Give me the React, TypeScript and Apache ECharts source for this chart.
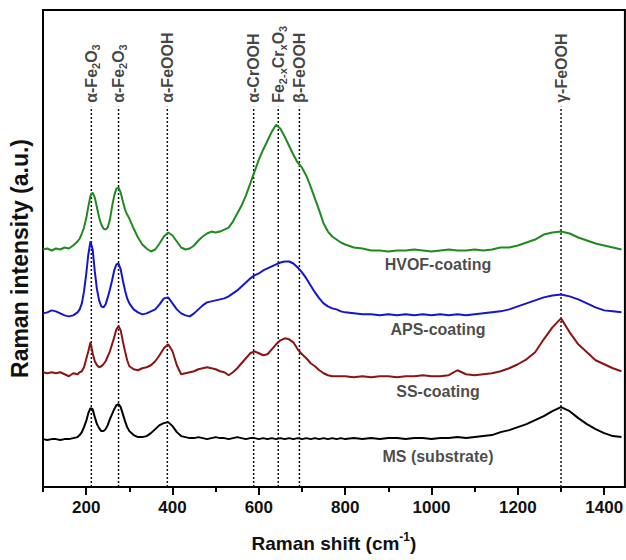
import React, { useEffect, useRef } from "react";
import * as echarts from "echarts";

// Raman shift grid (cm^-1)
const shift = [
  100, 110, 120, 130, 140, 150, 160, 170, 180,
  185, 190, 195, 200, 205, 210, 215, 220, 225, 230, 235, 240, 245, 250, 255, 260, 265, 270, 275, 280, 285, 290, 295, 300,
  310, 320, 330, 340, 350, 360, 370, 380, 390, 400, 410, 420, 430, 440, 450, 460, 470, 480, 490, 500,
  510, 520, 530, 540, 550, 560, 570, 580, 590, 600, 610, 620, 630, 640, 650, 660, 670, 680, 690, 700,
  710, 720, 730, 740, 750, 760, 770, 780, 790, 800,
  820, 840, 860, 880, 900, 920, 940, 960, 980, 1000, 1020, 1040, 1060, 1080, 1100, 1120, 1140, 1160, 1180, 1200,
  1220, 1240, 1260, 1280, 1300, 1320, 1340, 1360, 1380, 1400, 1420, 1440,
];

// Raman intensity (a.u., vertically offset spectra)
const hvof = [
  250, 251, 249, 251, 250, 252, 251, 254, 258,
  261, 266, 272, 281, 293, 304, 307, 302, 292, 282, 275, 271, 270, 272, 280, 293, 304, 311, 312, 307, 298, 290, 285, 281,
  271, 262, 255, 251, 248, 250, 256, 263, 267, 264, 258, 252, 250, 251, 254, 259, 263, 266, 268, 267,
  268, 270, 272, 278, 286, 294, 304, 316, 328, 340, 350, 359, 368, 375, 371, 363, 354, 345, 337, 332,
  324, 313, 301, 289, 276, 268, 263, 260, 257, 255,
  252, 251, 249, 249, 248, 249, 249, 250, 249, 248, 249, 250, 249, 249, 250, 249, 250, 252, 252, 254,
  257, 260, 265, 267, 268, 266, 262, 259, 256, 254, 252, 250,
];
const aps = [
  186, 187, 189, 188, 186, 184, 183, 184, 187,
  190, 196, 208, 225, 245, 258, 250, 228, 210, 199, 193, 192, 195, 202, 210, 219, 229, 235, 236, 230, 219, 209, 201, 196,
  190, 187, 185, 186, 188, 190, 195, 201, 202, 196, 190, 186, 184, 183, 186, 190, 194, 197, 198, 199,
  200, 201, 203, 206, 209, 213, 217, 221, 224, 226, 229, 231, 233, 235, 237, 238, 238, 236, 232, 227,
  221, 214, 207, 201, 196, 193, 191, 190, 188, 187,
  186, 185, 185, 184, 185, 184, 185, 184, 185, 184, 185, 184, 185, 184, 185, 186, 187, 188, 190, 193,
  196, 199, 202, 204, 205, 203, 200, 196, 192, 189, 188, 187,
];
const ss = [
  127, 126, 127, 126, 127, 125, 123, 126, 125,
  127, 128, 132, 140, 148, 157, 146, 138, 134, 132, 133, 135, 138, 143, 148, 155, 162, 170, 173, 169, 158, 148, 139, 133,
  130, 129, 131, 132, 134, 138, 144, 151, 155, 148, 134, 125, 126, 127, 128, 130, 131, 132, 131, 130,
  128, 127, 124, 127, 131, 136, 141, 146, 148, 146, 144, 145, 150, 155, 159, 161, 160, 157, 150, 145,
  141, 136, 133, 129, 126, 124, 123, 123, 123, 123,
  122, 123, 122, 123, 123, 122, 123, 123, 124, 123, 123, 124, 129, 125, 124, 125, 126, 128, 131, 135,
  140, 147, 160, 172, 181, 167, 155, 147, 139, 135, 131, 128,
];
const ms = [
  60, 59, 60, 60, 59, 60, 60, 61, 62,
  64, 67, 72, 78, 86, 91, 90, 82, 75, 71, 68, 68, 70, 74, 80, 85, 90, 94, 95, 92, 85, 78, 72, 68,
  64, 62, 62, 63, 66, 70, 74, 76, 77, 73, 67, 63, 62, 61, 61, 62, 61, 60, 61, 62,
  61, 61, 60, 61, 62, 61, 60, 61, 61, 60, 61, 60, 61, 60, 61, 60, 61, 60, 61, 60,
  61, 60, 61, 60, 61, 60, 61, 60, 61, 60,
  61, 60, 61, 60, 61, 61, 60, 61, 61, 60, 61, 61, 62, 61, 62, 63, 64, 67, 69, 72,
  75, 79, 83, 88, 92, 88, 81, 75, 70, 66, 63, 62,
];

const seriesNames = ["HVOF-coating", "APS-coating", "SS-coating", "MS (substrate)"];
const seriesColors = ["#1f8a1f", "#1515cc", "#8b1414", "#000000"];
const seriesData = [hvof, aps, ss, ms];

// curve labels (position in data units)
const curveLabelShift = 1015;
const curveLabelLevel = [235, 170, 108, 43];

// band assignments
const markerShift = [212, 275, 388, 588, 645, 694, 1300];
const markerLabels = [
  "α-Fe{s|2}O{s|3}",
  "α-Fe{s|2}O{s|3}",
  "α-FeOOH",
  "α-CrOOH",
  "Fe{s|2-x}Cr{s|x}O{s|3}",
  "β-FeOOH",
  "γ-FeOOH",
];
const markerTop = 393;

const majorTicks = [200, 400, 600, 800, 1000, 1200, 1400];
const minorTicks = [100, 300, 500, 700, 900, 1100, 1300];

const FONT = "'Liberation Sans', Arial, sans-serif";

export default function App() {
  const ref = useRef<HTMLDivElement>(null);

  useEffect(() => {
    if (!ref.current) return;
    const chart = echarts.init(ref.current, null, { renderer: "svg" });

    const spectra = seriesData.map((vals, i) => ({
      type: "line",
      name: seriesNames[i],
      data: vals.map((v, j) => [shift[j], v]),
      showSymbol: false,
      symbol: "none",
      lineStyle: { color: seriesColors[i], width: 2 },
      z: 3,
      silent: true,
    }));

    const markerLines = markerShift.map((x) => ({
      type: "line",
      data: [
        [x, 12],
        [x, markerTop],
      ],
      symbol: "none",
      lineStyle: { color: "#111", width: 1.5, type: [2, 2] },
      z: 2,
      silent: true,
    }));

    const markerText = {
      type: "scatter",
      symbolSize: 0,
      silent: true,
      data: markerShift.map((x, i) => ({
        value: [x, markerTop],
        label: { formatter: markerLabels[i] },
      })),
      label: {
        show: true,
        position: "top",
        distance: 4,
        rotate: 90,
        align: "left",
        verticalAlign: "middle",
        fontFamily: FONT,
        fontSize: 16,
        fontWeight: "bold",
        color: "#111",
        lineHeight: 20,
        rich: {
          s: {
            fontFamily: FONT,
            fontSize: 11,
            fontWeight: "bold",
            color: "#111",
            verticalAlign: "bottom",
          },
        },
      },
      z: 4,
    };

    const curveText = {
      type: "scatter",
      symbolSize: 0,
      silent: true,
      data: curveLabelLevel.map((y, i) => ({
        value: [curveLabelShift, y],
        label: { formatter: seriesNames[i] },
      })),
      label: {
        show: true,
        position: "inside",
        fontFamily: FONT,
        fontSize: 16,
        fontWeight: "bold",
        color: "#1a1a1a",
      },
      z: 4,
    };

    chart.setOption({
      animation: false,
      backgroundColor: "#ffffff",
      textStyle: { fontFamily: FONT },
      grid: {
        left: 40,
        right: -3,
        top: 10,
        bottom: 72,
        show: true,
        borderColor: "#000",
        borderWidth: 2,
      },
      xAxis: [
        {
          type: "value",
          min: 100,
          max: 1448,
          position: "bottom",
          axisLine: { show: true, onZero: false, lineStyle: { color: "#000", width: 2 } },
          axisTick: {
            show: true,
            length: 8,
            customValues: majorTicks,
            lineStyle: { color: "#000", width: 2 },
          },
          axisLabel: {
            customValues: majorTicks,
            formatter: (v: number) => String(v),
            fontFamily: FONT,
            fontSize: 17,
            fontWeight: "bold",
            color: "#111",
            margin: 12,
          },
          splitLine: { show: false },
          name: "Raman shift (cm{sup|-1})",
          nameLocation: "middle",
          nameGap: 44,
          nameTextStyle: {
            fontFamily: FONT,
            fontSize: 19,
            fontWeight: "bold",
            color: "#111",
            lineHeight: 24,
            rich: {
              sup: {
                fontFamily: FONT,
                fontSize: 12,
                fontWeight: "bold",
                color: "#111",
                verticalAlign: "top",
              },
            },
          },
        },
        {
          type: "value",
          min: 100,
          max: 1448,
          position: "bottom",
          axisLine: { show: false, onZero: false },
          axisTick: {
            show: true,
            length: 5,
            customValues: minorTicks,
            lineStyle: { color: "#000", width: 2 },
          },
          axisLabel: { show: false },
          splitLine: { show: false },
        },
      ],
      yAxis: {
        type: "value",
        min: 12,
        max: 490,
        axisLine: { show: true, onZero: false, lineStyle: { color: "#000", width: 2 } },
        axisTick: { show: false },
        axisLabel: { show: false },
        splitLine: { show: false },
        name: "Raman intensity (a.u.)",
        nameLocation: "middle",
        nameGap: 12,
        nameTextStyle: {
          fontFamily: FONT,
          fontSize: 23,
          fontWeight: "bold",
          color: "#111",
          padding: [0, 20, 0, 0],
        },
      },
      series: [...markerLines, ...spectra, markerText, curveText],
    });

    return () => chart.dispose();
  }, []);

  return (
    <div
      ref={ref}
      style={{ position: "absolute", left: 0, top: 0, width: 626, height: 560 }}
    />
  );
}
